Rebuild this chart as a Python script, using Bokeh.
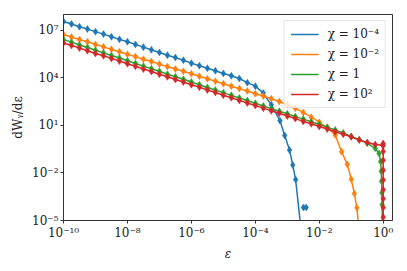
from bokeh.plotting import figure
from bokeh.models import FixedTicker, Legend, LegendItem, Range1d
from bokeh.embed import file_html
from bokeh.resources import INLINE

EPS_GRID = [1e-10, 1.78e-10, 3.16e-10, 5.62e-10,
            1e-9, 1.78e-9, 3.16e-9, 5.62e-9,
            1e-8, 1.78e-8, 3.16e-8, 5.62e-8,
            1e-7, 1.78e-7, 3.16e-7, 5.62e-7,
            1e-6, 1.78e-6, 3.16e-6, 5.62e-6,
            1e-5, 1.78e-5, 3.16e-5, 5.62e-5,
            1e-4, 1.78e-4, 3.16e-4, 5.62e-4,
            1e-3, 1.78e-3, 3.16e-3, 5.62e-3,
            1e-2, 1.78e-2, 3.16e-2, 5.62e-2,
            1e-1, 1.78e-1, 3.16e-1, 5.62e-1]

BLUE_Y = [3.6e7, 2.5e7, 1.7e7, 1.2e7, 8.3e6, 5.8e6, 3.9e6, 2.7e6, 1.9e6,
          1.3e6, 8.7e5, 5.9e5, 4.0e5, 2.7e5, 1.9e5, 1.3e5, 8.5e4, 5.9e4,
          4.1e4, 2.8e4, 1.9e4, 1.35e4, 9.1e3, 5.0e3, 3.0e3, 1.1e3, 2.0e2]
BLUE_TAIL_X = [5.9e-4, 8.3e-4, 1.17e-3, 1.48e-3, 1.82e-3]
BLUE_TAIL_Y = [20.0, 2.3, 0.28, 0.032, 0.0038]
BLUE_END_X = [2.6e-3]
BLUE_END_Y = [5e-6]
BLUE_EXTRA_X = [3.2e-3, 3.9e-3]
BLUE_EXTRA_Y = [6.6e-5, 6.6e-5]

ORANGE_Y = [5.4e6, 3.8e6, 2.6e6, 1.9e6, 1.3e6, 9.1e5, 6.3e5, 4.5e5, 3.1e5,
            2.2e5, 1.5e5, 1.07e5, 7.4e4, 5.2e4, 3.6e4, 2.6e4, 1.8e4, 1.26e4,
            8.7e3, 6.2e3, 4.3e3, 3.0e3, 2.1e3, 1.5e3, 1.0e3, 7.1e2, 4.9e2,
            3.2e2, 2.0e2, 1.2e2, 66.0, 33.0, 16.0, 7.1, 2.5]
ORANGE_TAIL_X = [0.05, 0.075, 0.1, 0.125, 0.15]
ORANGE_TAIL_Y = [0.22, 0.035, 0.004, 5e-4, 6.3e-5]
ORANGE_END_X = [0.17]
ORANGE_END_Y = [5e-6]

GREEN_Y = [2.6e6, 1.8e6, 1.2e6, 8.3e5, 5.6e5, 3.8e5, 2.6e5, 1.8e5, 1.2e5,
           8.1e4, 5.5e4, 3.8e4, 2.6e4, 1.7e4, 1.17e4, 8.1e3, 5.5e3, 3.7e3,
           2.5e3, 1.7e3, 1.17e3, 7.9e2, 5.4e2, 3.7e2, 2.5e2, 1.7e2, 1.15e2,
           79.0, 54.0, 36.0, 25.0, 17.0, 11.5, 7.8, 5.2, 3.3, 2.0, 1.26,
           0.76, 0.36]
GREEN_TAIL_X = [0.74, 0.83, 0.87, 0.89, 0.91, 0.925]
GREEN_TAIL_Y = [0.17, 0.052, 0.0126, 0.003, 5.6e-4, 1e-4]
GREEN_END_X = [0.935]
GREEN_END_Y = [5e-6]

RED_Y = [1.6e6, 1.12e6, 7.6e5, 5.2e5, 3.5e5, 2.5e5, 1.7e5, 1.15e5, 7.8e4,
         5.4e4, 3.6e4, 2.5e4, 1.7e4, 1.17e4, 7.9e3, 5.5e3, 3.7e3, 2.6e3,
         1.7e3, 1.2e3, 8.1e2, 5.6e2, 3.8e2, 2.6e2, 1.8e2, 1.23e2, 83.0,
         58.0, 39.0, 27.0, 18.0, 12.6, 8.5, 5.9, 4.0, 2.8, 1.9, 1.2, 0.83,
         0.63]
RED_TAIL_X = [0.977, 0.993, 0.995, 0.997, 0.998, 0.9985, 0.999, 0.9993,
              0.9995, 0.9997, 0.9999]
RED_TAIL_Y = [0.56, 0.72, 0.54, 0.23, 0.063, 0.015, 3.6e-3, 8.7e-4,
              2.4e-4, 6.6e-5, 1.6e-5]
RED_END_X = [0.99999]
RED_END_Y = [5e-6]

LABELS = ["χ = 10⁻⁴", "χ = 10⁻²", "χ = 1", "χ = 10²"]
COLORS = ["#1f77b4", "#ff7f0e", "#2ca02c", "#d62728"]

X_TICKS = [1e-10, 1e-8, 1e-6, 1e-4, 1e-2, 1e0]
X_TICK_LABELS = ["10⁻¹⁰", "10⁻⁸", "10⁻⁶", "10⁻⁴", "10⁻²", "10⁰"]
Y_TICKS = [1e-5, 1e-2, 1e1, 1e4, 1e7]
Y_TICK_LABELS = ["10⁻⁵", "10⁻²", "10¹", "10⁴", "10⁷"]

FONT = "DejaVu Serif"

p = figure(width=399, height=263, x_axis_type="log", y_axis_type="log",
           x_range=Range1d(1e-10, 1.95), y_range=Range1d(1e-5, 1e8),
           output_backend="svg", toolbar_location=None,
           min_border_left=63, min_border_right=7, min_border_top=14,
           min_border_bottom=40)
p.grid.visible = False
p.outline_line_color = "#333333"
p.outline_line_width = 1
p.background_fill_color = "white"
p.border_fill_color = "white"

series = [
    (BLUE_Y, BLUE_TAIL_X, BLUE_TAIL_Y, BLUE_END_X, BLUE_END_Y),
    (ORANGE_Y, ORANGE_TAIL_X, ORANGE_TAIL_Y, ORANGE_END_X, ORANGE_END_Y),
    (GREEN_Y, GREEN_TAIL_X, GREEN_TAIL_Y, GREEN_END_X, GREEN_END_Y),
    (RED_Y, RED_TAIL_X, RED_TAIL_Y, RED_END_X, RED_END_Y),
]

items = []
for (ys, tx, ty, ex, ey), col, lab in zip(series, COLORS, LABELS):
    mx = EPS_GRID[:len(ys)] + tx
    my = ys + ty
    r = p.line(mx + ex, my + ey, line_color=col, line_width=1.5)
    p.scatter(mx, my, marker="diamond", size=7, fill_color=col,
              line_color=col, line_width=0.5)
    items.append(LegendItem(label=lab, renderers=[r]))

p.scatter(BLUE_EXTRA_X, BLUE_EXTRA_Y, marker="diamond", size=7,
          fill_color=COLORS[0], line_color=COLORS[0], line_width=0.5)

legend = Legend(items=items, location="top_right")
legend.label_text_font = FONT
legend.label_text_font_size = "12px"
legend.label_text_color = "#222222"
legend.border_line_color = "#cccccc"
legend.border_line_width = 1
legend.background_fill_alpha = 0.8
legend.glyph_width = 28
legend.glyph_height = 12
legend.spacing = 6
legend.padding = 6
legend.margin = 6
legend.label_standoff = 9
p.add_layout(legend)

for ax, ticks, labels in ((p.xaxis[0], X_TICKS, X_TICK_LABELS),
                          (p.yaxis[0], Y_TICKS, Y_TICK_LABELS)):
    ax.ticker = FixedTicker(ticks=ticks, minor_ticks=[])
    ax.major_label_overrides = dict(zip(ticks, labels))
    ax.major_label_text_font = FONT
    ax.major_label_text_font_size = "12px"
    ax.major_label_text_color = "#222222"
    ax.major_label_standoff = 2
    ax.axis_label_standoff = 4
    ax.axis_line_color = "#333333"
    ax.major_tick_line_color = "#333333"
    ax.major_tick_out = 3
    ax.major_tick_in = 0
    ax.minor_tick_out = 0
    ax.axis_label_text_font = FONT
    ax.axis_label_text_font_size = "12px"
    ax.axis_label_text_font_style = "normal"
    ax.axis_label_text_color = "#222222"

p.xaxis.axis_label = "ε"
p.xaxis.axis_label_text_font_style = "italic"
p.yaxis.axis_label = "dWᵧ/dε"

open("out.html", "w").write(file_html(p, INLINE))
